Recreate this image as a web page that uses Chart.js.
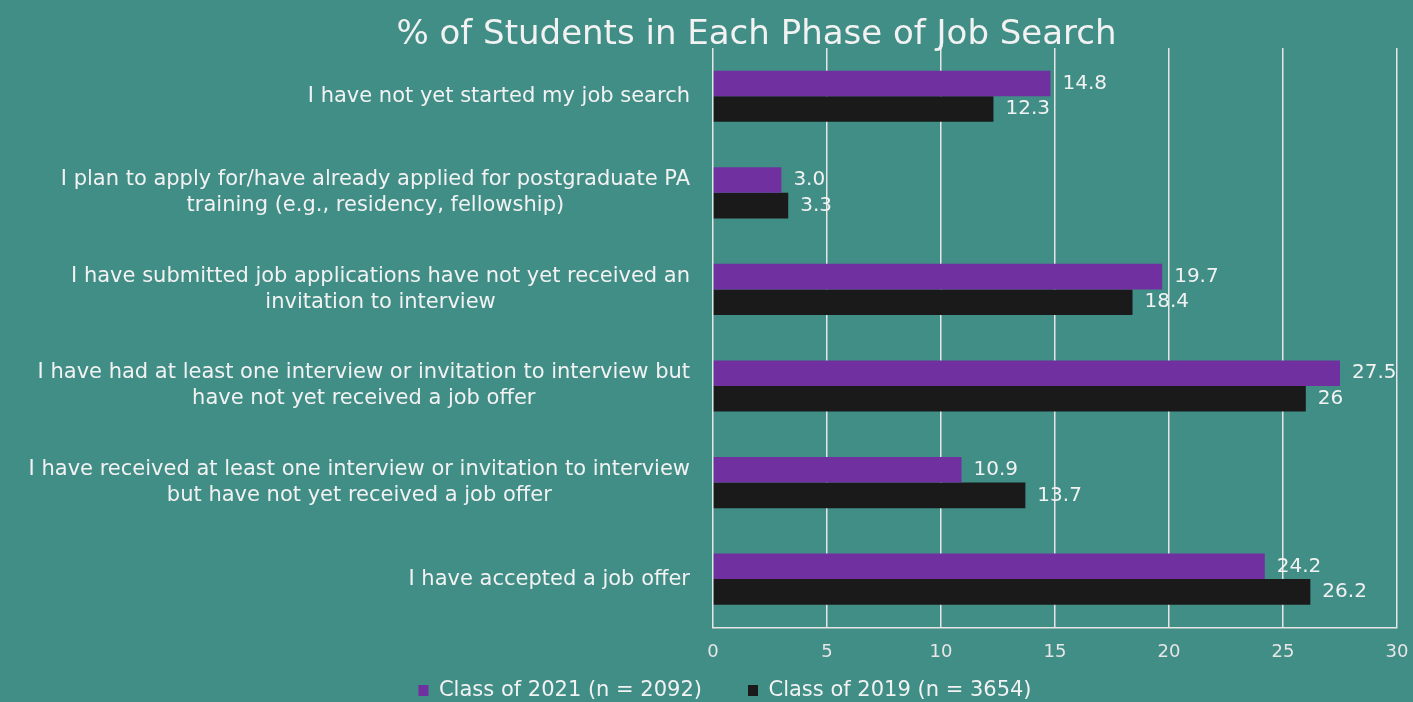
<!DOCTYPE html>
<html><head><meta charset="utf-8">
<script src="https://cdn.jsdelivr.net/npm/chart.js@4.4.1/dist/chart.umd.min.js"></script>
<style>html,body{margin:0;padding:0;background:#418e87;overflow:hidden;} #wrap{width:1413px;height:702px;position:relative;}</style>
</head><body><div id="wrap"><canvas id="c"></canvas></div>
<script>
const categories = [
  ["I have not yet started my job search"],
  ["I plan to apply for/have already applied for postgraduate PA", "training (e.g., residency, fellowship)"],
  ["I have submitted job applications have not yet received an", "invitation to interview"],
  ["I have had at least one interview or invitation to interview but", "have not yet received a job offer"],
  ["I have received at least one interview or invitation to interview", "but have not yet received a job offer"],
  ["I have accepted a job offer"]
];
const seriesNames = ["Class of 2021 (n = 2092)", "Class of 2019 (n = 3654)"];
const class2021 = [14.8, 3.0, 19.7, 27.5, 10.9, 24.2];
const class2019 = [12.3, 3.3, 18.4, 26, 13.7, 26.2];
const labels2021 = ["14.8", "3.0", "19.7", "27.5", "10.9", "24.2"];
const labels2019 = ["12.3", "3.3", "18.4", "26", "13.7", "26.2"];
const xTicks = [0, 5, 10, 15, 20, 25, 30];
const titleText = "% of Students in Each Phase of Job Search";

const FONT = "DejaVu Sans";
const TXT = "#f2f2f2";
const BG = "#418e87";

const bgPlugin = {
  id: "bg",
  beforeDraw(chart) {
    const ctx = chart.ctx;
    ctx.save();
    ctx.fillStyle = BG;
    ctx.fillRect(0, 0, chart.width, chart.height);
    ctx.restore();
  },
  afterLayout(chart) {
    const lg = chart.legend;
    if (lg) {
      const h = lg.bottom - lg.top;
      lg.left = 37;
      lg.top = 634;
      lg.bottom = 634 + h;
    }
  }
};

const yLabelPlugin = {
  id: "ylabels",
  afterDraw(chart) {
    const ctx = chart.ctx;
    const ys = chart.scales.y;
    const right = chart.chartArea.left - 23;
    const lh = 26;
    ctx.save();
    ctx.font = "21px " + FONT;
    ctx.fillStyle = TXT;
    ctx.textBaseline = "middle";
    ctx.textAlign = "center";
    categories.forEach((lines, i) => {
      const y = ys.getPixelForTick(i);
      const w = Math.max(...lines.map(l => ctx.measureText(l).width));
      const cx = right - w / 2;
      const y0 = y - (lines.length - 1) * lh / 2;
      lines.forEach((l, j) => ctx.fillText(l, cx, y0 + j * lh));
    });
    ctx.restore();
  }
};

const valuePlugin = {
  id: "values",
  afterDatasetsDraw(chart) {
    const ctx = chart.ctx;
    const lbls = [labels2021, labels2019];
    ctx.save();
    ctx.font = "20px " + FONT;
    ctx.fillStyle = TXT;
    ctx.textBaseline = "middle";
    ctx.textAlign = "left";
    chart.data.datasets.forEach((ds, di) => {
      const meta = chart.getDatasetMeta(di);
      meta.data.forEach((bar, i) => {
        ctx.fillText(lbls[di][i], bar.x + 12, bar.y);
      });
    });
    ctx.restore();
  }
};

new Chart(document.getElementById("c"), {
  type: "bar",
  data: {
    labels: categories,
    datasets: [
      { label: seriesNames[0], data: class2021, backgroundColor: "#7030a0", borderWidth: 0, categoryPercentage: 0.53, barPercentage: 1.0 },
      { label: seriesNames[1], data: class2019, backgroundColor: "#1a1a1a", borderWidth: 0, categoryPercentage: 0.53, barPercentage: 1.0 }
    ]
  },
  options: {
    indexAxis: "y",
    responsive: true,
    maintainAspectRatio: false,
    animation: false,
    layout: { padding: { left: 100, right: 0, top: 0, bottom: -52 } },
    scales: {
      x: {
        min: 0, max: 30,
        afterBuildTicks(scale) { scale.ticks = xTicks.map(v => ({ value: v })); },
        grid: { color: "#e6e6e6", lineWidth: 1.5, drawTicks: false },
        border: { display: true, color: "#e6e6e6", width: 1.5 },
        ticks: { color: "#e6e6e6", font: { family: FONT, size: 18 }, padding: 14 },
        afterFit(scale) { scale.paddingRight = 16; }
      },
      y: {
        grid: { display: false },
        border: { display: false },
        ticks: { display: false },
        afterFit(scale) { scale.width = 613; }
      }
    },
    plugins: {
      title: {
        display: true, text: titleText, color: TXT,
        font: { family: FONT, size: 34, weight: "normal", lineHeight: 1 },
        padding: { top: 18, bottom: -4 }
      },
      legend: {
        position: "bottom",
        labels: {
          color: TXT, font: { family: FONT, size: 21 },
          boxWidth: 10, boxHeight: 11, padding: 46
        }
      },
      tooltip: { enabled: false }
    }
  },
  plugins: [bgPlugin, yLabelPlugin, valuePlugin]
});
</script>
</body></html>
